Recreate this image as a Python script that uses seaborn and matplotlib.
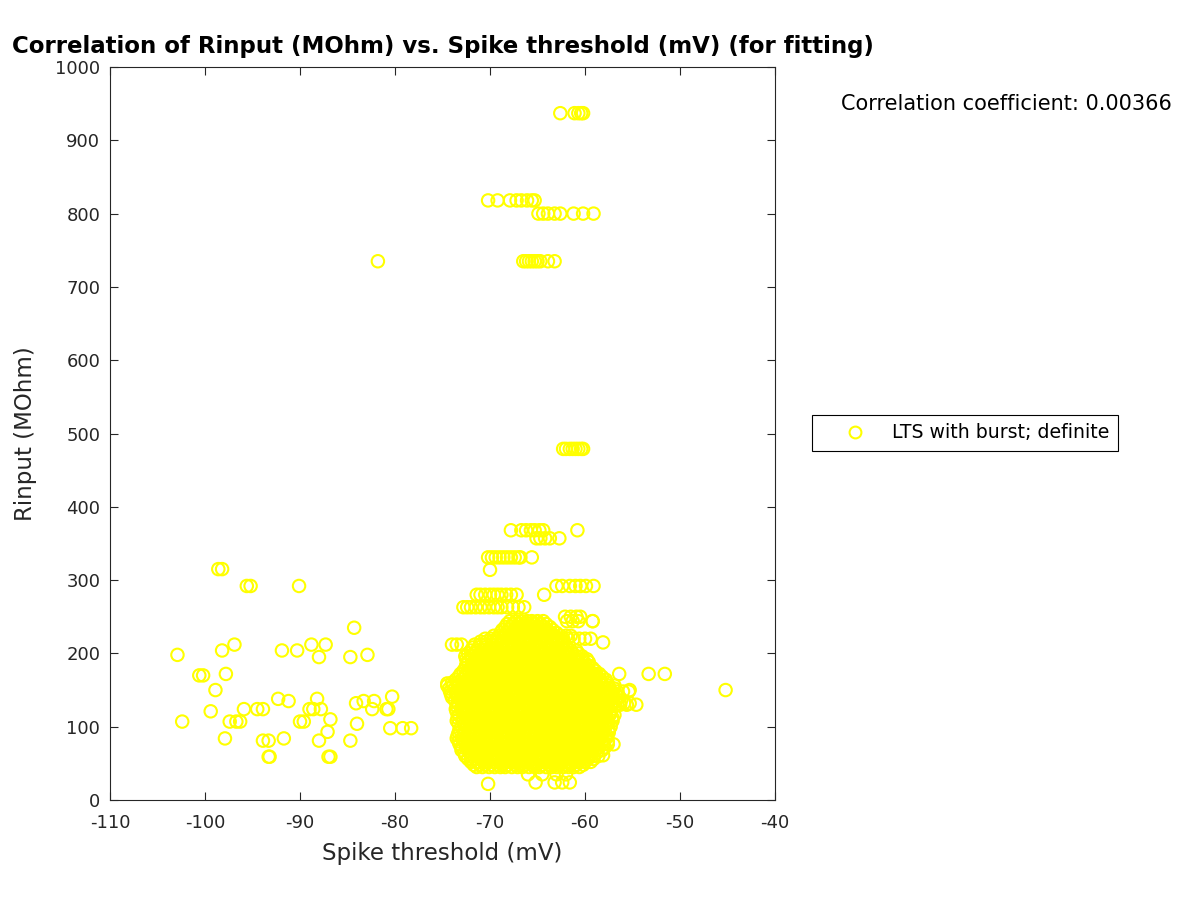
import numpy as np
import pandas as pd
import matplotlib
matplotlib.use("Agg")
import matplotlib.pyplot as plt
import seaborn as sns

# ---------------- data ----------------
# isolated points on the left (Spike threshold mV, Rinput MOhm)
left_threshold = [-98.6, -98.2, -95.6, -95.2, -90.1, -84.3, -102.9, -98.2, -96.9, -91.9,
                  -90.3, -88.8, -87.3, -88.0, -84.7, -82.9, -100.6, -100.2, -97.8, -98.9,
                  -92.3, -91.2, -88.2, -89.0, -88.6, -87.8, -95.9, -94.5, -93.9, -99.4,
                  -102.4, -97.4, -96.7, -96.3, -90.0, -89.6, -86.8, -84.0, -84.1, -83.3,
                  -82.2, -82.4, -80.9, -80.7, -80.3, -80.5, -79.2, -78.3, -97.9, -93.9,
                  -93.3, -91.7, -88.0, -84.7, -87.1, -93.3, -93.2, -87.0, -86.8, -81.8]
left_rinput = [315, 315, 292, 292, 292, 235, 198, 204, 212, 204,
               204, 212, 212, 195, 195, 198, 170, 170, 172, 150,
               138, 135, 138, 124, 124, 124, 124, 124, 124, 121,
               107, 107, 107, 107, 107, 107, 110, 104, 132, 135,
               135, 124, 124, 124, 141, 98, 98, 98, 84, 81,
               81, 84, 81, 81, 93, 59, 59, 59, 59, 735]

# main cluster: each Rinput level with its spike thresholds
cluster_rinput = [45, 48, 52, 56, 60, 64, 68, 72, 76, 80, 84, 88, 92, 96, 100, 104,
                  108, 112, 116, 120, 124, 128, 132, 136, 140, 144, 148, 152, 156, 160,
                  164, 168, 172, 176, 180, 184, 188, 192, 196, 200, 204, 208, 212, 216,
                  220, 224, 228, 232, 236, 240, 244]
cluster_thresholds = [
    [-71.4, -70.8, -70.1, -69.5, -68.9, -68.4, -67.7, -67.1, -66.6, -65.9, -65.3, -64.8, -64.1, -63.5, -63.0, -62.3, -61.7, -61.2, -60.6],
    [-71.7, -71.1, -70.5, -69.9, -69.2, -68.7, -68.1, -67.4, -66.9, -66.3, -65.6, -65.1, -64.5, -63.8, -63.3, -62.7, -62.0, -61.5, -60.9, -60.2],
    [-72.0, -71.3, -70.7, -70.2, -69.6, -68.9, -68.3, -67.8, -67.2, -66.5, -66.0, -65.4, -64.7, -64.2, -63.6, -63.0, -62.4, -61.8, -61.1, -60.6, -60.0, -59.4],
    [-72.3, -71.6, -71.0, -70.5, -69.8, -69.2, -68.6, -68.1, -67.5, -66.8, -66.3, -65.7, -65.0, -64.5, -63.9, -63.3, -62.7, -62.0, -61.5, -60.9, -60.2, -59.7, -59.1],
    [-72.6, -72.0, -71.4, -70.8, -70.3, -69.6, -69.1, -68.5, -67.9, -67.3, -66.8, -66.1, -65.6, -65.0, -64.4, -63.8, -63.3, -62.6, -62.1, -61.5, -60.9, -60.3, -59.7, -59.1, -58.6],
    [-72.7, -72.1, -71.5, -70.9, -70.4, -69.8, -69.2, -68.6, -68.0, -67.5, -66.9, -66.3, -65.7, -65.1, -64.6, -64.0, -63.4, -62.8, -62.2, -61.7, -61.1, -60.5, -59.9, -59.3, -58.8],
    [-73.0, -72.3, -71.7, -71.1, -70.6, -70.0, -69.4, -68.8, -68.2, -67.6, -67.0, -66.5, -65.9, -65.3, -64.7, -64.1, -63.6, -63.0, -62.4, -61.8, -61.2, -60.7, -60.1, -59.5, -58.9, -58.2],
    [-73.0, -72.4, -71.8, -71.3, -70.7, -70.1, -69.5, -68.9, -68.4, -67.8, -67.2, -66.6, -66.0, -65.5, -64.9, -64.3, -63.7, -63.1, -62.6, -62.0, -61.4, -60.8, -60.2, -59.7, -59.1, -58.5, -57.9],
    [-73.2, -72.6, -72.0, -71.4, -70.9, -70.3, -69.7, -69.1, -68.5, -67.9, -67.4, -66.8, -66.2, -65.6, -65.1, -64.5, -63.9, -63.3, -62.7, -62.2, -61.6, -61.0, -60.4, -59.8, -59.3, -58.7, -58.1, -57.6],
    [-73.3, -72.7, -72.1, -71.6, -71.0, -70.4, -69.8, -69.2, -68.7, -68.1, -67.5, -66.9, -66.3, -65.8, -65.2, -64.6, -64.0, -63.4, -62.9, -62.3, -61.7, -61.1, -60.5, -60.0, -59.4, -58.8, -58.2, -57.6],
    [-73.5, -72.9, -72.3, -71.7, -71.2, -70.6, -70.0, -69.4, -68.8, -68.3, -67.7, -67.1, -66.5, -65.9, -65.4, -64.8, -64.2, -63.6, -63.1, -62.5, -61.9, -61.3, -60.7, -60.2, -59.6, -59.0, -58.4, -57.8],
    [-73.4, -72.8, -72.2, -71.6, -71.1, -70.5, -69.9, -69.3, -68.7, -68.2, -67.6, -67.0, -66.4, -65.8, -65.3, -64.7, -64.1, -63.5, -62.9, -62.4, -61.8, -61.2, -60.6, -60.0, -59.5, -58.9, -58.3, -57.7],
    [-73.3, -72.7, -72.1, -71.5, -70.9, -70.3, -69.8, -69.2, -68.6, -68.0, -67.4, -66.9, -66.3, -65.7, -65.1, -64.5, -64.0, -63.4, -62.8, -62.2, -61.6, -61.1, -60.5, -59.9, -59.3, -58.7, -58.1, -57.5],
    [-73.2, -72.6, -72.0, -71.4, -70.8, -70.2, -69.7, -69.1, -68.5, -67.9, -67.3, -66.8, -66.2, -65.6, -65.0, -64.4, -63.9, -63.3, -62.7, -62.1, -61.5, -61.0, -60.4, -59.8, -59.2, -58.6, -58.1, -57.5],
    [-73.0, -72.4, -71.8, -71.2, -70.6, -70.0, -69.5, -68.9, -68.3, -67.7, -67.1, -66.6, -66.0, -65.4, -64.8, -64.3, -63.7, -63.1, -62.5, -61.9, -61.4, -60.8, -60.2, -59.6, -59.0, -58.5, -57.9, -57.3],
    [-73.3, -72.7, -72.1, -71.5, -70.9, -70.3, -69.8, -69.2, -68.6, -68.0, -67.4, -66.9, -66.3, -65.7, -65.1, -64.5, -64.0, -63.4, -62.8, -62.2, -61.6, -61.1, -60.5, -59.9, -59.3, -58.7, -58.2, -57.6],
    [-73.5, -72.9, -72.3, -71.7, -71.1, -70.5, -70.0, -69.4, -68.8, -68.2, -67.6, -67.0, -66.5, -65.9, -65.3, -64.7, -64.1, -63.6, -63.0, -62.4, -61.8, -61.2, -60.6, -60.1, -59.5, -58.9, -58.3, -57.7, -57.1],
    [-73.4, -72.8, -72.2, -71.6, -71.0, -70.4, -69.9, -69.3, -68.7, -68.1, -67.5, -67.0, -66.4, -65.8, -65.2, -64.6, -64.1, -63.5, -62.9, -62.3, -61.7, -61.2, -60.6, -60.0, -59.4, -58.8, -58.3, -57.7, -57.1],
    [-73.3, -72.7, -72.1, -71.5, -70.9, -70.3, -69.7, -69.1, -68.5, -68.0, -67.4, -66.8, -66.2, -65.6, -65.0, -64.4, -63.9, -63.3, -62.7, -62.1, -61.5, -60.9, -60.4, -59.8, -59.2, -58.6, -58.0, -57.4, -56.9],
    [-73.5, -72.9, -72.3, -71.7, -71.1, -70.6, -70.0, -69.4, -68.8, -68.2, -67.7, -67.1, -66.5, -65.9, -65.3, -64.8, -64.2, -63.6, -63.0, -62.4, -61.9, -61.3, -60.7, -60.1, -59.5, -59.0, -58.4, -57.8, -57.3],
    [-73.6, -73.0, -72.4, -71.8, -71.2, -70.6, -70.1, -69.5, -68.9, -68.3, -67.7, -67.1, -66.5, -66.0, -65.4, -64.8, -64.2, -63.6, -63.0, -62.5, -61.9, -61.3, -60.7, -60.1, -59.5, -58.9, -58.4, -57.8],
    [-73.5, -72.9, -72.4, -71.8, -71.2, -70.6, -70.0, -69.5, -68.9, -68.3, -67.7, -67.1, -66.6, -66.0, -65.4, -64.8, -64.2, -63.7, -63.1, -62.5, -61.9, -61.3, -60.8, -60.2, -59.6, -59.0, -58.4, -57.9, -57.3, -56.8],
    [-73.4, -72.8, -72.2, -71.6, -71.0, -70.4, -69.8, -69.3, -68.7, -68.1, -67.5, -66.9, -66.3, -65.8, -65.2, -64.6, -64.0, -63.4, -62.8, -62.3, -61.7, -61.1, -60.5, -59.9, -59.3, -58.7, -58.2, -57.6, -57.0, -56.4, -55.9, -55.3],
    [-73.7, -73.1, -72.5, -71.9, -71.3, -70.8, -70.2, -69.6, -69.0, -68.4, -67.9, -67.3, -66.7, -66.1, -65.5, -65.0, -64.4, -63.8, -63.2, -62.6, -62.1, -61.5, -60.9, -60.3, -59.7, -59.2, -58.6, -58.0, -57.4, -56.8, -56.2],
    [-74.0, -73.4, -72.8, -72.2, -71.6, -71.0, -70.5, -69.9, -69.3, -68.7, -68.1, -67.5, -66.9, -66.4, -65.8, -65.2, -64.6, -64.0, -63.4, -62.9, -62.3, -61.7, -61.1, -60.5, -59.9, -59.3, -58.8, -58.2, -57.6, -57.0, -56.4],
    [-74.1, -73.5, -72.9, -72.3, -71.7, -71.2, -70.6, -70.0, -69.4, -68.8, -68.3, -67.7, -67.1, -66.5, -65.9, -65.4, -64.8, -64.2, -63.6, -63.0, -62.5, -61.9, -61.3, -60.7, -60.1, -59.6, -59.0, -58.4, -57.8, -57.2, -56.7],
    [-74.2, -73.6, -73.0, -72.4, -71.8, -71.2, -70.7, -70.1, -69.5, -68.9, -68.3, -67.7, -67.1, -66.6, -66.0, -65.4, -64.8, -64.2, -63.6, -63.1, -62.5, -61.9, -61.3, -60.7, -60.1, -59.5, -59.0, -58.4, -57.8, -57.2, -56.6, -56.0, -55.4],
    [-74.3, -73.7, -73.1, -72.5, -72.0, -71.4, -70.8, -70.2, -69.6, -69.1, -68.5, -67.9, -67.3, -66.7, -66.2, -65.6, -65.0, -64.4, -63.8, -63.3, -62.7, -62.1, -61.5, -60.9, -60.4, -59.8, -59.2, -58.6, -58.0, -57.5, -56.9],
    [-74.5, -73.9, -73.3, -72.7, -72.1, -71.5, -71.0, -70.4, -69.8, -69.2, -68.6, -68.0, -67.4, -66.9, -66.3, -65.7, -65.1, -64.5, -63.9, -63.4, -62.8, -62.2, -61.6, -61.0, -60.4, -59.8, -59.3, -58.7, -58.1, -57.5, -56.9],
    [-74.0, -73.4, -72.8, -72.2, -71.7, -71.1, -70.5, -69.9, -69.3, -68.8, -68.2, -67.6, -67.0, -66.4, -65.9, -65.3, -64.7, -64.1, -63.5, -63.0, -62.4, -61.8, -61.2, -60.6, -60.1, -59.5, -58.9, -58.3, -57.7],
    [-73.6, -73.0, -72.4, -71.8, -71.2, -70.7, -70.1, -69.5, -68.9, -68.3, -67.7, -67.1, -66.6, -66.0, -65.4, -64.8, -64.2, -63.6, -63.1, -62.5, -61.9, -61.3, -60.7, -60.1, -59.5, -59.0, -58.4, -57.8],
    [-73.3, -72.7, -72.1, -71.5, -71.0, -70.4, -69.8, -69.2, -68.6, -68.1, -67.5, -66.9, -66.3, -65.7, -65.2, -64.6, -64.0, -63.4, -62.8, -62.3, -61.7, -61.1, -60.5, -59.9, -59.4, -58.8, -58.2],
    [-73.1, -72.5, -71.9, -71.3, -70.7, -70.2, -69.6, -69.0, -68.4, -67.8, -67.2, -66.7, -66.1, -65.5, -64.9, -64.3, -63.8, -63.2, -62.6, -62.0, -61.4, -60.8, -60.3, -59.7, -59.1, -58.5],
    [-72.8, -72.2, -71.6, -71.1, -70.5, -69.9, -69.3, -68.7, -68.2, -67.6, -67.0, -66.4, -65.8, -65.3, -64.7, -64.1, -63.5, -62.9, -62.4, -61.8, -61.2, -60.6, -60.0, -59.5, -58.9],
    [-72.6, -72.0, -71.4, -70.8, -70.3, -69.7, -69.1, -68.5, -67.9, -67.3, -66.8, -66.2, -65.6, -65.0, -64.4, -63.9, -63.3, -62.7, -62.1, -61.5, -60.9, -60.4, -59.8, -59.2],
    [-72.5, -71.9, -71.3, -70.7, -70.2, -69.6, -69.0, -68.4, -67.8, -67.3, -66.7, -66.1, -65.5, -64.9, -64.4, -63.8, -63.2, -62.6, -62.0, -61.5, -60.9, -60.3, -59.7],
    [-72.4, -71.8, -71.2, -70.6, -70.0, -69.5, -68.9, -68.3, -67.7, -67.1, -66.5, -66.0, -65.4, -64.8, -64.2, -63.6, -63.0, -62.5, -61.9, -61.3, -60.7, -60.1, -59.6],
    [-72.5, -71.9, -71.3, -70.8, -70.2, -69.6, -69.0, -68.4, -67.9, -67.3, -66.7, -66.1, -65.5, -65.0, -64.4, -63.8, -63.2, -62.6, -62.1, -61.5, -60.9, -60.3, -59.8],
    [-72.6, -72.0, -71.4, -70.8, -70.3, -69.7, -69.1, -68.5, -67.9, -67.3, -66.8, -66.2, -65.6, -65.0, -64.4, -63.9, -63.3, -62.7, -62.1, -61.5, -60.9, -60.3],
    [-72.3, -71.7, -71.1, -70.5, -70.0, -69.4, -68.8, -68.2, -67.6, -67.1, -66.5, -65.9, -65.3, -64.7, -64.2, -63.6, -63.0, -62.4, -61.8, -61.3, -60.7],
    [-72.0, -71.4, -70.8, -70.2, -69.7, -69.1, -68.5, -67.9, -67.3, -66.7, -66.2, -65.6, -65.0, -64.4, -63.8, -63.2, -62.7, -62.1, -61.5, -60.9],
    [-71.8, -71.2, -70.6, -70.0, -69.5, -68.9, -68.3, -67.7, -67.1, -66.6, -66.0, -65.4, -64.8, -64.2, -63.7, -63.1, -62.5, -61.9],
    [-74.0, -73.5, -73.0, -71.6, -71.0, -70.4, -69.8, -69.3, -68.7, -68.1, -67.5, -66.9, -66.3, -65.8, -65.2, -64.6, -64.0, -63.4, -62.9, -62.3],
    [-71.0, -70.4, -69.8, -69.3, -68.7, -68.1, -67.5, -66.9, -66.4, -65.8, -65.2, -64.6, -64.0, -63.5, -62.9, -62.3],
    [-70.5, -69.9, -69.3, -68.7, -68.2, -67.6, -67.0, -66.4, -65.8, -65.2, -64.7, -64.1, -63.5, -62.9, -62.3, -61.8, -61.2, -60.6, -60.0, -59.4],
    [-69.6, -69.0, -68.4, -67.9, -67.3, -66.7, -66.1, -65.5, -65.0, -64.4, -63.8, -63.2, -62.6, -62.0, -61.5],
    [-68.9, -68.3, -67.7, -67.1, -66.5, -66.0, -65.4, -64.8, -64.2, -63.6, -63.0],
    [-68.7, -68.1, -67.5, -66.9, -66.3, -65.8, -65.2, -64.6, -64.0, -63.4],
    [-68.4, -67.8, -67.2, -66.6, -66.1, -65.5, -64.9, -64.3, -63.7],
    [-68.2, -67.6, -67.0, -66.4, -65.9, -65.3, -64.7, -64.1],
    [-67.9, -67.3, -66.7, -66.1, -65.6, -65.0, -64.4, -61.9, -61.3, -60.7, -59.2],
]

# upper horizontal groups
upper_rinput = [250, 263, 280, 292, 314, 331, 357, 368, 479, 735, 800, 818, 937]
upper_thresholds = [
    [-62.1, -61.5, -60.9, -60.5],
    [-72.8, -72.4, -72.0, -71.5, -71.0, -70.6, -70.1, -69.6, -69.2, -68.8, -68.2, -67.6, -67.0, -66.4],
    [-71.4, -71.0, -70.5, -70.0, -69.6, -69.2, -68.8, -68.3, -67.8, -67.2, -64.3],
    [-63.0, -62.4, -61.6, -61.0, -60.5, -59.9, -59.1],
    [-70.0],
    [-70.2, -69.8, -69.4, -69.0, -68.6, -68.2, -67.8, -67.4, -67.0, -66.8, -65.6],
    [-65.1, -64.7, -64.2, -63.7, -62.7],
    [-67.8, -66.7, -66.2, -65.7, -65.3, -64.8, -64.4, -60.8],
    [-62.3, -62.0, -61.6, -61.3, -61.0, -60.7, -60.4, -60.2],
    [-66.5, -66.2, -65.9, -65.6, -65.3, -65.0, -64.7, -63.9, -63.2],
    [-64.9, -64.4, -63.9, -63.2, -62.6, -61.2, -60.2, -59.1],
    [-70.2, -69.2, -67.9, -67.2, -66.7, -66.1, -65.6, -65.3],
    [-62.6, -61.1, -60.7, -60.4, -60.2],
]

# scattered points around the cluster edge
edge_threshold = [-56.4, -53.3, -51.6, -58.8, -74.5, -45.2, -55.3, -56.3, -55.6, -54.6,
                  -57.0, -72.0, -70.2, -65.2, -63.2, -62.4, -61.6, -58.1, -59.2, -59.5,
                  -58.1, -66.0, -64.5, -63.0, -62.0]
edge_rinput = [172, 172, 172, 172, 159, 150, 150, 130, 130, 130,
               76, 55, 22, 24, 24, 24, 24, 215, 244, 61,
               61, 35, 35, 35, 35]

corr_text = "Correlation coefficient: 0.00366"
title_text = "Correlation of Rinput (MOhm) vs. Spike threshold (mV) (for fitting)"
series_label = "LTS with burst; definite"
x_ticks = [-110, -100, -90, -80, -70, -60, -50, -40]
y_ticks = [0, 100, 200, 300, 400, 500, 600, 700, 800, 900, 1000]

# ---------------- assemble ----------------
xs, ys = list(left_threshold), list(left_rinput)
for r, row in zip(cluster_rinput, cluster_thresholds):
    xs += row
    ys += [r] * len(row)
for r, row in zip(upper_rinput, upper_thresholds):
    xs += row
    ys += [r] * len(row)
xs += edge_threshold
ys += edge_rinput
df = pd.DataFrame({"Spike threshold (mV)": xs, "Rinput (MOhm)": ys})

# ---------------- plot ----------------
sns.set_theme(style="white")
plt.rcParams["font.family"] = ["DejaVu Sans"]
plt.rcParams["axes.unicode_minus"] = False

fig = plt.figure(figsize=(12, 9), dpi=100)
ax = fig.add_axes([110 / 1200, 100 / 900, 665 / 1200, 733 / 900])

sns.scatterplot(data=df, x="Spike threshold (mV)", y="Rinput (MOhm)", ax=ax,
                marker="o", s=80, facecolor="none", edgecolor="#ffff00",
                linewidth=1.5, legend=False)

ax.set_xlim(-110, -40)
ax.set_ylim(0, 1000)
ax.set_xticks(x_ticks)
ax.set_yticks(y_ticks)
ax.tick_params(axis="both", which="both", direction="in", length=6, width=0.8,
               labelsize=13, colors="#262626", top=True, right=True,
               bottom=True, left=True)
ax.tick_params(axis="x", pad=10)
ax.tick_params(axis="y", pad=7)
for sp in ax.spines.values():
    sp.set_visible(True)
    sp.set_color("#262626")
    sp.set_linewidth(0.8)
ax.set_xlabel("Spike threshold (mV)", fontsize=16.5, color="#262626", labelpad=7)
ax.set_ylabel("Rinput (MOhm)", fontsize=16.5, color="#262626", labelpad=13)
ax.set_title(title_text, fontsize=16.5, fontweight="bold", color="black", pad=10)

handle = plt.Line2D([], [], linestyle="none", marker="o", markersize=8.5,
                    markerfacecolor="none", markeredgecolor="#ffff00",
                    markeredgewidth=1.5)
leg = fig.legend([handle], [series_label], loc="center left",
                 bbox_to_anchor=(812 / 1200, 1 - 433 / 900),
                 bbox_transform=fig.transFigure, fontsize=13.6, frameon=True,
                 fancybox=False, framealpha=1, edgecolor="black",
                 borderaxespad=0, handletextpad=0.1, borderpad=0.45,
                 handlelength=3.7, labelcolor="black")
leg.get_frame().set_linewidth(0.8)

fig.text(1172 / 1200, 1 - 104 / 900, corr_text, ha="right", va="center",
         fontsize=15, color="black")

fig.savefig("out.png", dpi=100)
